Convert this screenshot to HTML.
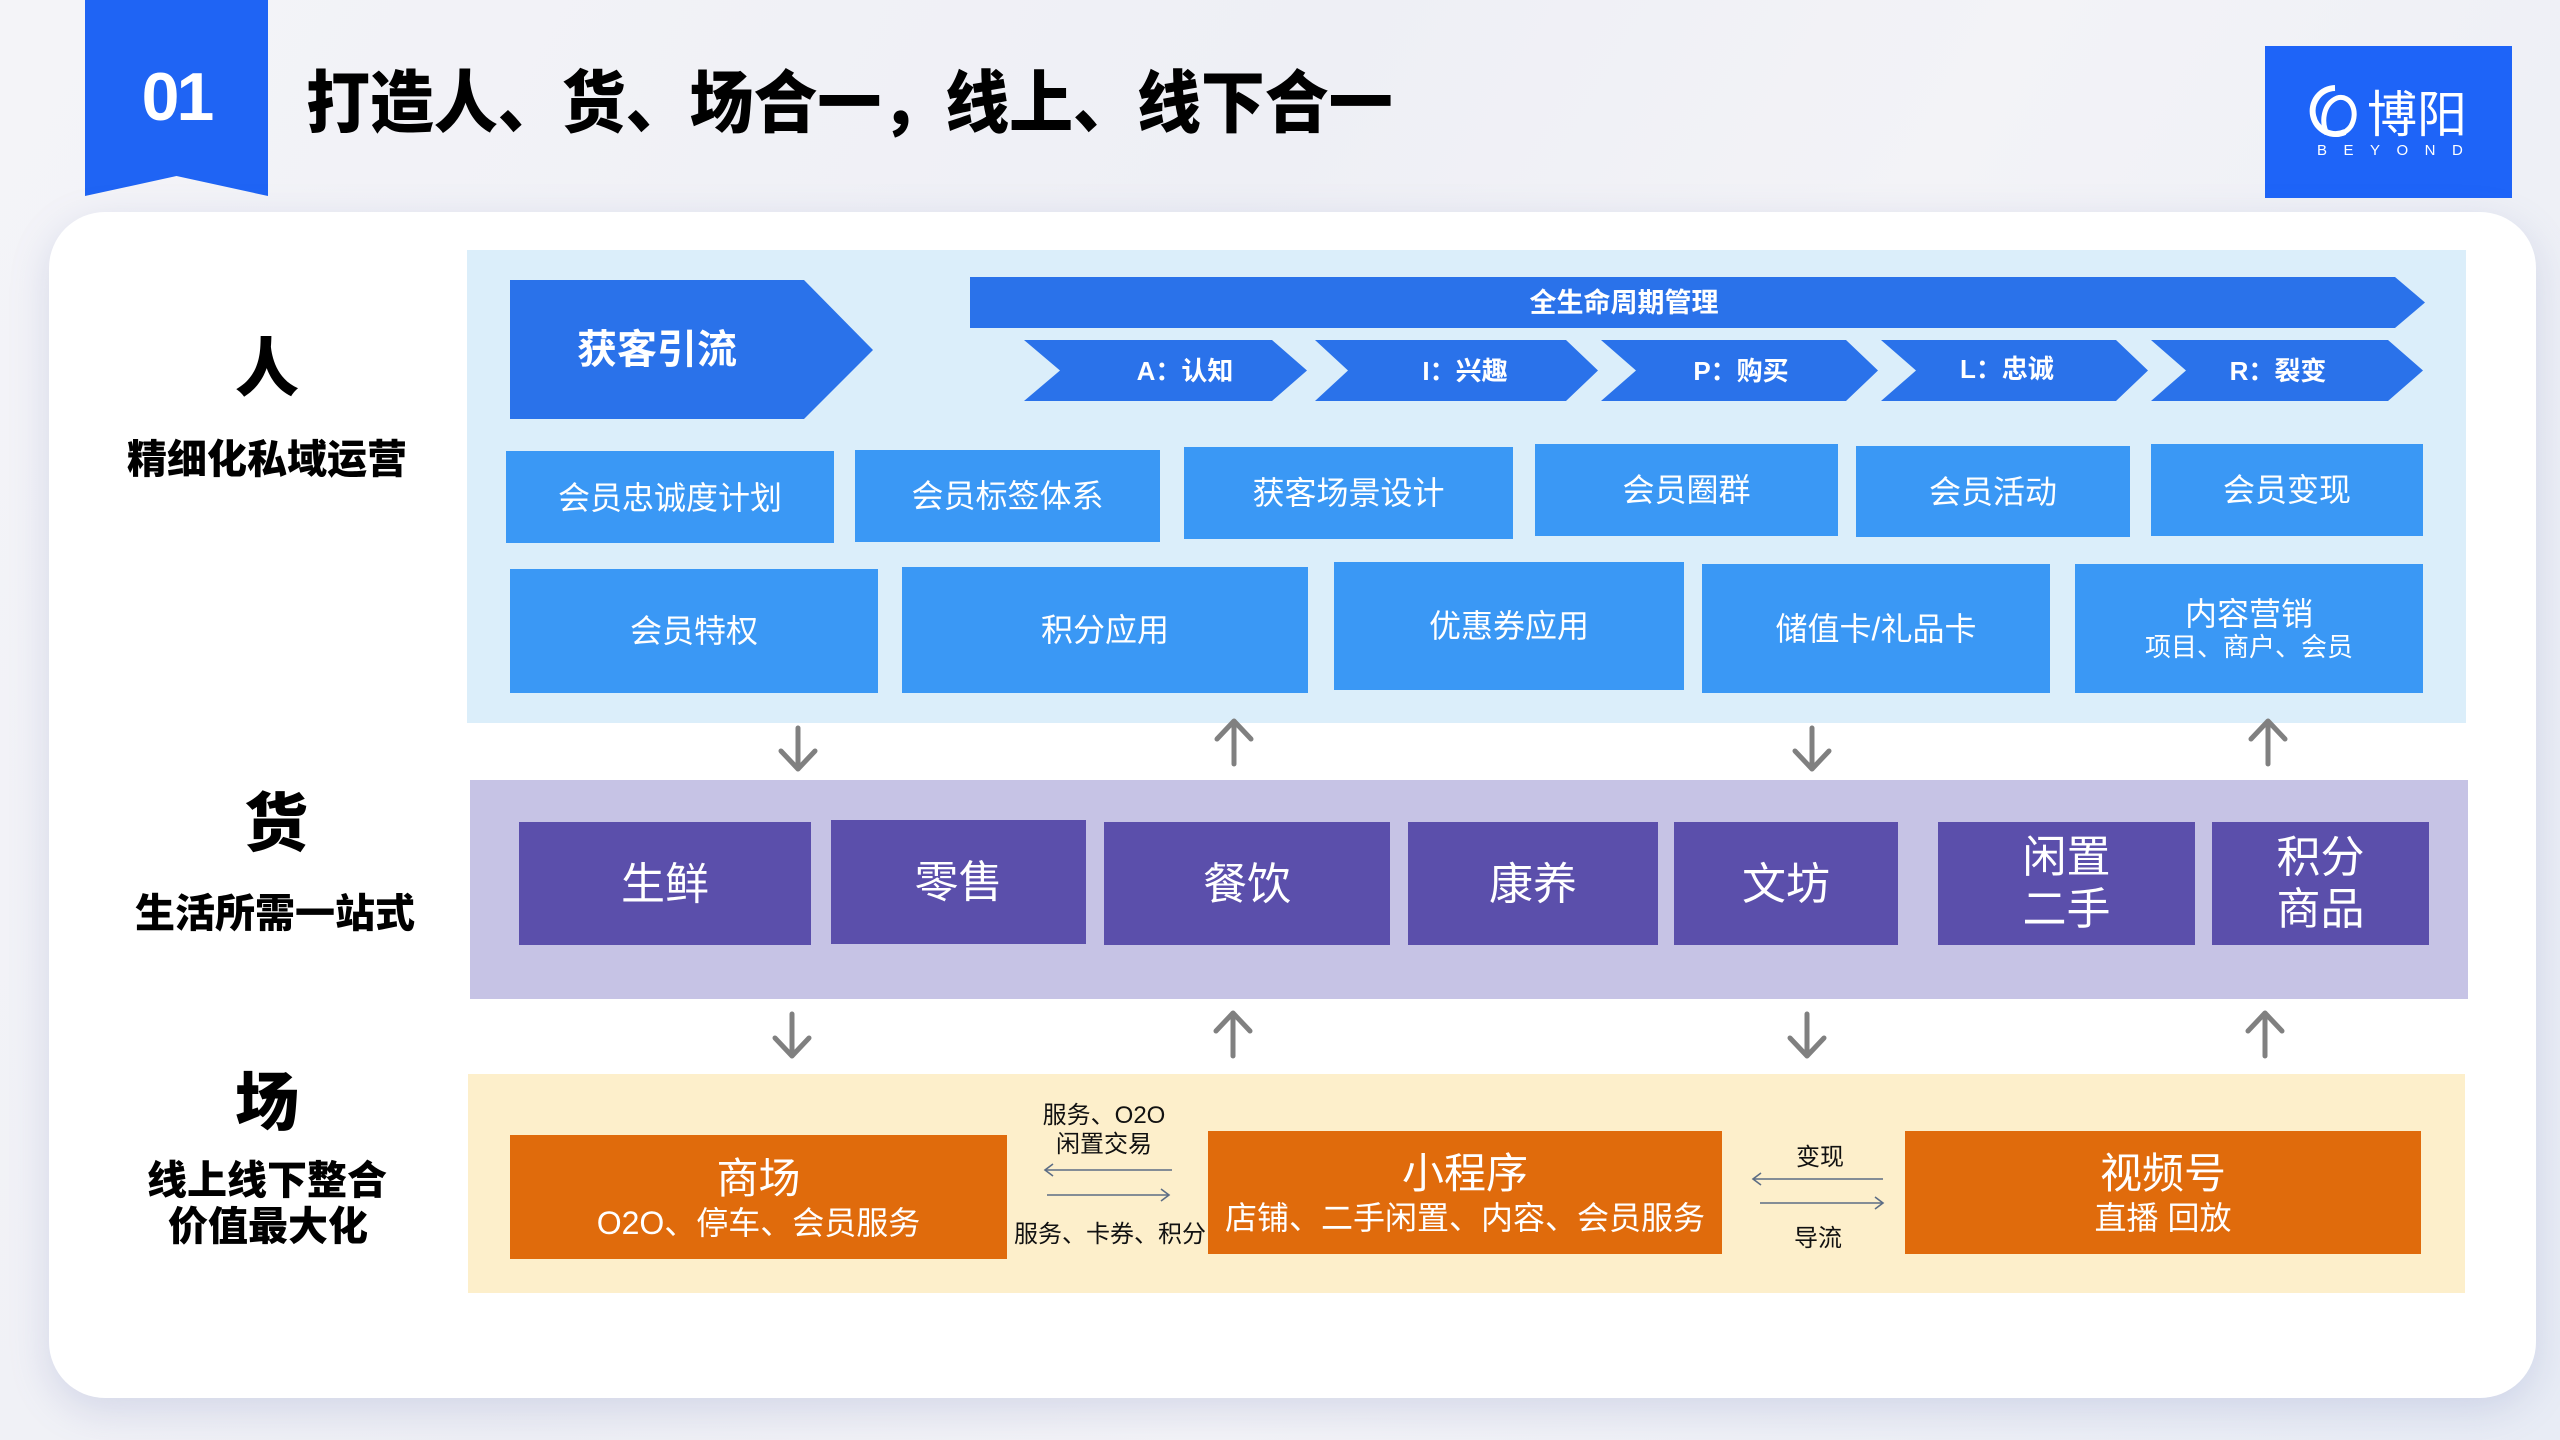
<!DOCTYPE html>
<html><head><meta charset="utf-8">
<style>
*{margin:0;padding:0;box-sizing:border-box}
html,body{width:2560px;height:1440px;overflow:hidden}
body{position:relative;font-family:"Liberation Sans","Noto Sans CJK SC",sans-serif;
background:linear-gradient(120deg,#f4f4f8 0%,#eeeff5 40%,#f3f3f7 60%,#e8ecf5 100%);}
.a{position:absolute}
.t{position:absolute;display:flex;align-items:center;justify-content:center;white-space:nowrap;text-align:center;line-height:1}
.h{font-family:"Noto Sans CJK SC","Liberation Sans",sans-serif;font-weight:900;color:#000}
.w{color:#fff;font-family:"Liberation Sans","Noto Sans CJK SC",sans-serif}
.b1{background:#3a98f5}
.pb{background:#5b4fab}
.ob{background:#e06b0c}
</style></head><body>

<!-- tab -->
<div class="a" style="left:85px;top:0;width:183px;height:196px;background:#1f64f4;clip-path:polygon(0 0,100% 0,100% 100%,50% 176px,0 100%)"></div>
<div class="t" style="left:85px;top:62px;width:183px;height:70px;color:#fff;font-family:'Liberation Sans',sans-serif;font-weight:bold;font-size:68px;letter-spacing:-3px">01</div>

<!-- title -->
<div class="a h" style="left:306px;top:58px;height:80px;font-size:68px;line-height:80px;white-space:nowrap;transform:scaleX(0.94);transform-origin:left center">打造人、货、场合一，线上、线下合一</div>

<!-- logo -->
<div class="a" style="left:2265px;top:46px;width:247px;height:152px;background:#1e64f8"></div>
<svg class="a" style="left:2305px;top:82px" width="60" height="60" viewBox="0 0 60 60">
<path d="M30 6 A23 23 0 1 0 40 50" fill="none" stroke="#fff" stroke-width="6"/>
<path d="M22 52 C16 40 18 22 32 16 C46 12 54 30 46 44 C42 50 34 54 28 52" fill="none" stroke="#fff" stroke-width="5"/>
</svg>
<div class="t" style="left:2364px;top:86px;width:106px;height:50px;color:#fff;font-size:50px;font-weight:normal;font-family:'Noto Sans CJK SC',sans-serif">博阳</div>
<div class="a" style="left:2317px;top:142px;width:160px;height:18px;color:#fff;font-size:15px;letter-spacing:16.5px;line-height:18px;font-family:'Liberation Sans',sans-serif">BEYOND</div>

<!-- card -->
<div class="a" style="left:49px;top:212px;width:2487px;height:1186px;background:#fff;border-radius:56px;box-shadow:0 12px 40px rgba(110,125,180,0.22)"></div>

<!-- panels -->
<div class="a" style="left:467px;top:250px;width:1999px;height:473px;background:#dbeefa"></div>
<div class="a" style="left:470px;top:780px;width:1998px;height:219px;background:#c6c3e5"></div>
<div class="a" style="left:468px;top:1074px;width:1997px;height:219px;background:#fdefcb"></div>

<!-- left labels -->
<div class="t h" style="left:167px;top:330px;width:200px;height:68px;font-size:64px">人</div>
<div class="t h" style="left:107px;top:434px;width:320px;height:44px;font-size:40px">精细化私域运营</div>
<div class="t h" style="left:176px;top:785px;width:200px;height:68px;font-size:64px">货</div>
<div class="t h" style="left:115px;top:888px;width:320px;height:44px;font-size:40px">生活所需一站式</div>
<div class="t h" style="left:167px;top:1064px;width:200px;height:68px;font-size:64px">场</div>
<div class="t h" style="left:107px;top:1155px;width:320px;height:44px;font-size:40px">线上线下整合</div>
<div class="t h" style="left:108px;top:1201px;width:320px;height:44px;font-size:40px">价值最大化</div>

<!-- shapes svg -->
<svg class="a" style="left:0;top:0" width="2560" height="1440" viewBox="0 0 2560 1440">
<g fill="#2a72ea">
<polygon points="510,280 804,280 873,350 804,419 510,419"/>
<polygon points="970,277 2395,277 2425,302.5 2395,328 970,328"/>
<polygon points="1024,340 1272,340 1307,370.5 1272,401 1024,401 1060,370.5"/>
<polygon points="1315,340 1566,340 1598,370.5 1566,401 1315,401 1348,370.5"/>
<polygon points="1601,340 1846,340 1878,370.5 1846,401 1601,401 1636,370.5"/>
<polygon points="1881,340 2116,340 2148,370.5 2116,401 1881,401 1916,370.5"/>
<polygon points="2151,340 2388,340 2423,370.5 2388,401 2151,401 2186,370.5"/>
</g>
<g stroke="#808080" stroke-width="5" fill="none" stroke-linecap="round" stroke-linejoin="round">
<line x1="798" y1="728" x2="798" y2="768"/><polyline points="781,751 798,769 815,751"/>
<line x1="1812" y1="728" x2="1812" y2="768"/><polyline points="1795,751 1812,769 1829,751"/>
<line x1="1234" y1="722" x2="1234" y2="764"/><polyline points="1217,739 1234,721 1251,739"/>
<line x1="2268" y1="722" x2="2268" y2="764"/><polyline points="2251,739 2268,721 2285,739"/>
<line x1="792" y1="1014" x2="792" y2="1055"/><polyline points="775,1038 792,1056 809,1038"/>
<line x1="1807" y1="1014" x2="1807" y2="1055"/><polyline points="1790,1038 1807,1056 1824,1038"/>
<line x1="1233" y1="1014" x2="1233" y2="1056"/><polyline points="1216,1031 1233,1013 1250,1031"/>
<line x1="2265" y1="1014" x2="2265" y2="1056"/><polyline points="2248,1031 2265,1013 2282,1031"/>
</g>
<g stroke="#5c6d85" stroke-width="1.6" fill="none">
<line x1="1045" y1="1170" x2="1172" y2="1170"/><polyline points="1053,1164 1045,1170 1053,1176"/>
<line x1="1047" y1="1195" x2="1169" y2="1195"/><polyline points="1161,1189 1169,1195 1161,1201"/>
<line x1="1753" y1="1179" x2="1883" y2="1179"/><polyline points="1761,1173 1753,1179 1761,1185"/>
<line x1="1760" y1="1203" x2="1883" y2="1203"/><polyline points="1875,1197 1883,1203 1875,1209"/>
</g>
</svg>

<!-- blue header texts -->
<div class="t w" style="left:510px;top:326px;width:294px;height:48px;font-size:40px;font-weight:bold">获客引流</div>
<div class="t w" style="left:1520px;top:286px;width:208px;height:34px;font-size:27px;font-weight:bold">全生命周期管理</div>
<div class="t w" style="left:1085px;top:356px;width:200px;height:30px;font-size:26px;font-weight:bold">A：认知</div>
<div class="t w" style="left:1365px;top:356px;width:200px;height:30px;font-size:26px;font-weight:bold">I：兴趣</div>
<div class="t w" style="left:1641px;top:356px;width:200px;height:30px;font-size:26px;font-weight:bold">P：购买</div>
<div class="t w" style="left:1907px;top:354px;width:200px;height:30px;font-size:26px;font-weight:bold">L：忠诚</div>
<div class="t w" style="left:2178px;top:356px;width:200px;height:30px;font-size:26px;font-weight:bold">R：裂变</div>

<!-- row 1 -->
<div class="t w b1" style="left:506px;top:451px;width:328px;height:92px;font-size:32px;padding-top:2px">会员忠诚度计划</div>
<div class="t w b1" style="left:855px;top:450px;width:305px;height:92px;font-size:32px">会员标签体系</div>
<div class="t w b1" style="left:1184px;top:447px;width:329px;height:92px;font-size:32px">获客场景设计</div>
<div class="t w b1" style="left:1535px;top:444px;width:303px;height:92px;font-size:32px">会员圈群</div>
<div class="t w b1" style="left:1856px;top:446px;width:274px;height:91px;font-size:32px">会员活动</div>
<div class="t w b1" style="left:2151px;top:444px;width:272px;height:92px;font-size:32px">会员变现</div>

<!-- row 2 -->
<div class="t w b1" style="left:510px;top:569px;width:368px;height:124px;font-size:32px">会员特权</div>
<div class="t w b1" style="left:902px;top:567px;width:406px;height:126px;font-size:32px">积分应用</div>
<div class="t w b1" style="left:1334px;top:562px;width:350px;height:128px;font-size:32px">优惠券应用</div>
<div class="t w b1" style="left:1702px;top:564px;width:348px;height:129px;font-size:32px">储值卡/礼品卡</div>
<div class="t w b1" style="left:2075px;top:564px;width:348px;height:129px;flex-direction:column">
<div style="font-size:32px;line-height:36px">内容营销</div>
<div style="font-size:26px;line-height:30px">项目、商户、会员</div>
</div>

<!-- purple boxes -->
<div class="t w pb" style="left:519px;top:822px;width:292px;height:123px;font-size:44px;padding-top:2px">生鲜</div>
<div class="t w pb" style="left:831px;top:820px;width:255px;height:124px;font-size:44px;padding-top:2px">零售</div>
<div class="t w pb" style="left:1104px;top:822px;width:286px;height:123px;font-size:44px;padding-top:2px">餐饮</div>
<div class="t w pb" style="left:1408px;top:822px;width:250px;height:123px;font-size:44px;padding-top:2px">康养</div>
<div class="t w pb" style="left:1674px;top:822px;width:224px;height:123px;font-size:44px;padding-top:2px">文坊</div>
<div class="t w pb" style="left:1938px;top:822px;width:257px;height:123px;font-size:44px;line-height:52px;white-space:normal;flex-direction:column"><div>闲置</div><div>二手</div></div>
<div class="t w pb" style="left:2212px;top:822px;width:217px;height:123px;font-size:44px;line-height:52px;white-space:normal;flex-direction:column"><div>积分</div><div>商品</div></div>

<!-- orange boxes -->
<div class="t w ob" style="left:510px;top:1135px;width:497px;height:124px;flex-direction:column;padding-top:5px">
<div style="font-size:42px;line-height:46px">商场</div>
<div style="font-size:32px;line-height:42px">O2O、停车、会员服务</div>
</div>
<div class="t w ob" style="left:1208px;top:1131px;width:514px;height:123px;flex-direction:column;padding-top:5px">
<div style="font-size:42px;line-height:46px">小程序</div>
<div style="font-size:32px;line-height:42px">店铺、二手闲置、内容、会员服务</div>
</div>
<div class="t w ob" style="left:1905px;top:1131px;width:516px;height:123px;flex-direction:column;padding-top:5px">
<div style="font-size:42px;line-height:46px">视频号</div>
<div style="font-size:32px;line-height:42px">直播 回放</div>
</div>

<!-- connector labels -->
<div class="t" style="left:1014px;top:1102px;width:180px;height:28px;font-size:24px;color:#111">服务、O2O</div>
<div class="t" style="left:1014px;top:1131px;width:180px;height:28px;font-size:24px;color:#111">闲置交易</div>
<div class="t" style="left:1010px;top:1221px;width:200px;height:28px;font-size:24px;color:#111">服务、卡券、积分</div>
<div class="t" style="left:1780px;top:1144px;width:80px;height:28px;font-size:24px;color:#111">变现</div>
<div class="t" style="left:1778px;top:1225px;width:80px;height:28px;font-size:24px;color:#111">导流</div>

</body></html>
